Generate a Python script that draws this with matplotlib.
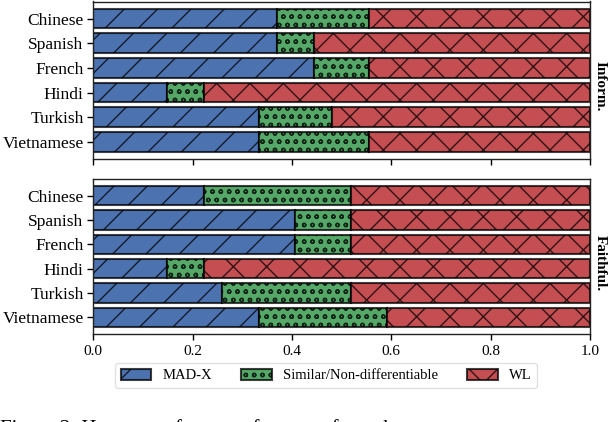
import matplotlib
matplotlib.use("Agg")
import matplotlib.pyplot as plt
from matplotlib.patches import Patch
import numpy as np

plt.rcParams['font.family'] = ['Liberation Serif', 'DejaVu Serif']

languages = ["Chinese", "Spanish", "French", "Hindi", "Turkish", "Vietnamese"]

# Informativeness proportions
inform_madx = [0.370, 0.370, 0.444, 0.148, 0.333, 0.333]
inform_similar = [0.185, 0.074, 0.111, 0.074, 0.148, 0.222]
inform_wl = [0.444, 0.556, 0.444, 0.778, 0.519, 0.444]

# Faithfulness proportions
faith_madx = [0.222, 0.407, 0.407, 0.148, 0.259, 0.333]
faith_similar = [0.296, 0.111, 0.111, 0.074, 0.259, 0.259]
faith_wl = [0.481, 0.481, 0.481, 0.778, 0.481, 0.407]

series_names = ["MAD-X", "Similar/Non-differentiable", "WL"]
colors = ["#4C72B0", "#55A868", "#C44E52"]
hatches = ["/", "oo", "x"]
panel_labels = ["Inform.", "Faithful."]
xticks = [0.0, 0.2, 0.4, 0.6, 0.8, 1.0]

W, H = 608, 422
fig = plt.figure(figsize=(W / 100, H / 100), dpi=100)

def fx(px):
    return px / W

def fy(py):
    return 1 - py / H

left, right = 93.3, 590.0
ax_top = fig.add_axes([fx(left), fy(159), fx(right - left), fy(1.5) - fy(159)])
ax_bot = fig.add_axes([fx(left), fy(334), fx(right - left), fy(179) - fy(334)])

edge = (0, 0, 0, 0.75)
y = np.arange(len(languages))

for ax, data, lab in [(ax_top, (inform_madx, inform_similar, inform_wl), panel_labels[0]),
                      (ax_bot, (faith_madx, faith_similar, faith_wl), panel_labels[1])]:
    cum = np.zeros(len(languages))
    for vals, c, h in zip(data, colors, hatches):
        ax.barh(y, vals, left=cum, height=0.8, color=c, edgecolor=edge,
                linewidth=1.5, hatch=h)
        cum = cum + np.array(vals)
    ax.set_yticks(y)
    ax.set_yticklabels(languages, fontsize=12.5)
    ax.invert_yaxis()
    ax.set_xlim(0, 1)
    ax.set_xticks(xticks)
    ax.tick_params(axis='y', length=4, width=1, pad=3)
    ax.tick_params(axis='x', length=4, width=1, labelsize=11, pad=4)
    for s in ax.spines.values():
        s.set_linewidth(1.0)
        s.set_color('#222222')
    ax.text(1.02, 0.46, lab, transform=ax.transAxes, rotation=270,
            fontsize=11, fontweight='bold', ha='center', va='center')

ax_top.set_xticklabels([])
ax_bot.set_xticklabels([f"{t:.1f}" for t in xticks])

handles = [Patch(facecolor=c, edgecolor=edge, hatch=h, linewidth=1.5)
           for c, h in zip(colors, hatches)]
fig.legend(handles, series_names, loc='upper center', ncol=3,
           bbox_to_anchor=(fx(326), fy(363)), bbox_transform=fig.transFigure,
           borderaxespad=0, fontsize=10.5,
           handlelength=2.1, handleheight=0.8, handletextpad=0.75,
           columnspacing=2.0, borderpad=0.4, frameon=True, fancybox=True,
           edgecolor='0.85')

fig.text(0.0, fy(419.5), "Figure 2: Human preference of outputs from the two",
         fontsize=15, ha='left', va='top')

fig.savefig("out.png", dpi=100)
